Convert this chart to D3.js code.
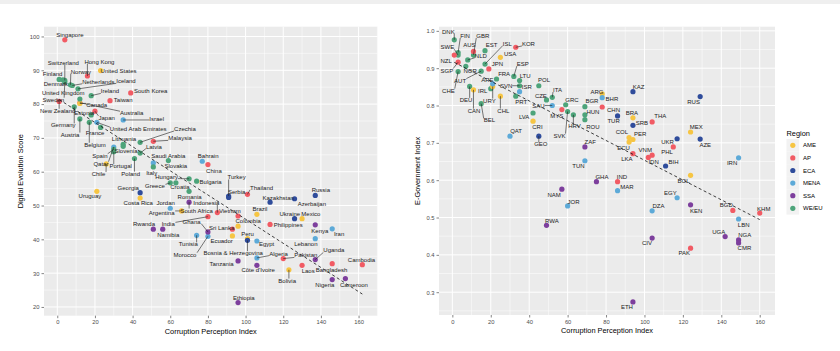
<!DOCTYPE html>
<html>
<head>
<meta charset="utf-8">
<script src="https://cdn.jsdelivr.net/npm/d3@7"></script>
<style>
    body, html { margin: 0; padding: 0; background: #fff; }
    #container { width: 840px; height: 351px; }
    text { font-family: "Liberation Sans", Arial, sans-serif; }
</style>
</head>
<body>
<div id="container"></div>
<script>
// ---- regions ----
const regions = ["AME", "AP", "ECA", "MENA", "SSA", "WE/EU"];
const regionColors = ["#F6C543", "#F15B64", "#2F4C9B", "#5DAAD8", "#7D3F9D", "#4DA47A"];

// ---- left panel: Digital Evolution Score vs CPI rank (2019) ----
const desCountry = ["Singapore", "Hong Kong", "South Korea", "Taiwan", "Australia", "New Zealand", "Japan", "Malaysia", "China", "Indonesia", "India", "Vietnam", "Thailand", "Philippines", "Sri Lanka", "Pakistan", "Laos", "Bangladesh", "Cambodia",
    "United States", "Canada", "Chile", "Uruguay", "Costa Rica", "Argentina", "Brazil", "Mexico", "Colombia", "Ecuador", "Peru", "Bolivia",
    "Georgia", "Turkey", "Serbia", "Kazakhstan", "Russia", "Azerbaijan", "Ukraine", "Bosnia & Herzegovina",
    "Israel", "United Arab Emirates", "Qatar", "Saudi Arabia", "Bahrain", "Jordan", "Tunisia", "Morocco", "Iran", "Egypt", "Lebanon", "Algeria",
    "South Africa", "Rwanda", "Namibia", "Ghana", "Kenya", "Uganda", "Tanzania", "Côte d'Ivoire", "Nigeria", "Cameroon", "Ethiopia",
    "Denmark", "Finland", "Switzerland", "Sweden", "Norway", "Netherlands", "Iceland", "Ireland", "United Kingdom", "Germany", "Estonia", "Austria", "Belgium", "France", "Czechia", "Lithuania", "Slovenia", "Latvia", "Spain", "Portugal", "Poland", "Slovakia", "Italy", "Hungary", "Bulgaria", "Greece", "Croatia", "Romania"];
const desRegion = ["AP", "AP", "AP", "AP", "AP", "AP", "AP", "AP", "AP", "AP", "AP", "AP", "AP", "AP", "AP", "AP", "AP", "AP", "AP",
    "AME", "AME", "AME", "AME", "AME", "AME", "AME", "AME", "AME", "AME", "AME", "AME",
    "ECA", "ECA", "ECA", "ECA", "ECA", "ECA", "ECA", "ECA",
    "MENA", "MENA", "MENA", "MENA", "MENA", "MENA", "MENA", "MENA", "MENA", "MENA", "MENA", "MENA",
    "SSA", "SSA", "SSA", "SSA", "SSA", "SSA", "SSA", "SSA", "SSA", "SSA", "SSA",
    "WE/EU", "WE/EU", "WE/EU", "WE/EU", "WE/EU", "WE/EU", "WE/EU", "WE/EU", "WE/EU", "WE/EU", "WE/EU", "WE/EU", "WE/EU", "WE/EU", "WE/EU", "WE/EU", "WE/EU", "WE/EU", "WE/EU", "WE/EU", "WE/EU", "WE/EU", "WE/EU", "WE/EU", "WE/EU", "WE/EU", "WE/EU", "WE/EU"];
const desCpi = [4, 16, 39, 28, 12, 1, 20, 51, 80, 85, 80, 96, 101, 113, 93, 120, 130, 146, 162,
    23, 12, 26, 21, 44, 66, 106, 130, 96, 93, 101, 123,
    44, 91, 91, 113, 137, 126, 126, 101,
    35, 21, 30, 51, 77, 60, 74, 80, 146, 106, 137, 106,
    70, 51, 56, 80, 137, 137, 96, 106, 146, 153, 96,
    1, 3, 4, 4, 7, 8, 11, 18, 12, 9, 18, 12, 17, 23, 44, 35, 35, 44, 30, 30, 41, 59, 51, 70, 74, 60, 63, 70];
const desScore = [99.0, 88.3, 83.3, 81.0, 80.4, 80.8, 77.9, 69.0, 62.1, 47.9, 46.7, 46.9, 53.3, 44.4, 43.0, 34.3, 32.3, 32.8, 32.5,
    89.9, 80.2, 62.3, 54.2, 52.2, 48.4, 47.4, 46.1, 43.9, 41.0, 40.2, 31.0,
    53.8, 52.8, 52.4, 51.0, 53.0, 52.0, 46.1, 39.7,
    75.3, 74.6, 67.3, 62.6, 63.1, 49.2, 41.2, 40.9, 43.1, 39.5, 40.2, 34.5,
    51.0, 43.0, 43.0, 42.2, 44.3, 34.0, 33.6, 32.3, 28.1, 28.4, 21.3,
    87.3, 87.2, 87.0, 86.5, 85.7, 85.5, 84.5, 82.5, 81.5, 79.2, 76.8, 75.6, 74.6, 73.1, 68.7, 68.1, 67.5, 65.5, 66.6, 65.9, 63.9, 63.3, 61.4, 57.9, 57.2, 56.7, 56.7, 54.2];

// ---- right panel: E-Government Index vs CPI rank (2020) ----
const egovCode = ["DNK", "FIN", "SWE", "GBR", "NLD", "NOR", "CHE", "EST", "ISL", "AUT", "DEU", "IRL", "BEL", "FRA", "ESP", "PRT", "LTU", "SVN", "POL", "LVA", "CZE", "ITA", "GRC", "SVK", "HRV", "BGR", "HUN", "ROU",
    "NZL", "SGP", "AUS", "JPN", "KOR", "MYS", "CHN", "THA", "LKA", "VNM", "IDN", "PHL", "IND", "BGD", "KHM", "PAK",
    "USA", "CAN", "URY", "CHL", "CRI", "ARG", "BRA", "COL", "PER", "ECU", "MEX", "BOL",
    "ARE", "ISR", "SAU", "QAT", "BHR", "TUN", "IRN", "MAR", "EGY", "DZA", "LBN", "JOR",
    "GEO", "KAZ", "TUR", "SRB", "RUS", "UKR", "AZE", "BIH",
    "ZAF", "GHA", "NAM", "RWA", "KEN", "UGA", "NGA", "CMR", "CIV", "ETH"];
const egovRegion = ["WE/EU", "WE/EU", "WE/EU", "WE/EU", "WE/EU", "WE/EU", "WE/EU", "WE/EU", "WE/EU", "WE/EU", "WE/EU", "WE/EU", "WE/EU", "WE/EU", "WE/EU", "WE/EU", "WE/EU", "WE/EU", "WE/EU", "WE/EU", "WE/EU", "WE/EU", "WE/EU", "WE/EU", "WE/EU", "WE/EU", "WE/EU", "WE/EU",
    "AP", "AP", "AP", "AP", "AP", "AP", "AP", "AP", "AP", "AP", "AP", "AP", "AP", "AP", "AP", "AP",
    "AME", "AME", "AME", "AME", "AME", "AME", "AME", "AME", "AME", "AME", "AME", "AME",
    "MENA", "MENA", "MENA", "MENA", "MENA", "MENA", "MENA", "MENA", "MENA", "MENA", "MENA", "MENA",
    "ECA", "ECA", "ECA", "ECA", "ECA", "ECA", "ECA", "ECA",
    "SSA", "SSA", "SSA", "SSA", "SSA", "SSA", "SSA", "SSA", "SSA", "SSA"];
const egovCpi = [1, 3, 3, 11, 8, 7, 3, 17, 17, 15, 9, 20, 15, 23, 32, 33, 35, 35, 45, 42, 49, 52, 59, 60, 63, 69, 69, 69,
    1, 3, 11, 19, 33, 57, 78, 104, 94, 104, 102, 115, 86, 146, 160, 124,
    25, 11, 21, 25, 42, 78, 94, 92, 94, 92, 124, 124,
    21, 35, 52, 30, 78, 69, 149, 86, 117, 104, 149, 60,
    45, 94, 86, 94, 129, 117, 129, 111,
    69, 75, 57, 49, 124, 142, 149, 149, 104, 94];
const egovIndex = [0.976, 0.942, 0.935, 0.935, 0.922, 0.905, 0.891, 0.947, 0.911, 0.892, 0.851, 0.845, 0.805, 0.871, 0.878, 0.825, 0.867, 0.853, 0.853, 0.780, 0.815, 0.822, 0.802, 0.784, 0.775, 0.797, 0.775, 0.762,
    0.935, 0.916, 0.945, 0.898, 0.956, 0.789, 0.796, 0.756, 0.671, 0.667, 0.661, 0.689, 0.596, 0.519, 0.512, 0.418,
    0.929, 0.842, 0.851, 0.825, 0.758, 0.831, 0.767, 0.714, 0.709, 0.702, 0.729, 0.613,
    0.858, 0.837, 0.800, 0.718, 0.821, 0.652, 0.660, 0.572, 0.553, 0.518, 0.496, 0.531,
    0.718, 0.837, 0.772, 0.747, 0.824, 0.711, 0.710, 0.638,
    0.689, 0.596, 0.576, 0.479, 0.534, 0.449, 0.440, 0.432, 0.445, 0.274];

// ---- label placement (pixel nudges from the point, like ggrepel output) ----
const desNudge = {
    "Singapore": [5, -5], "Switzerland": [-1.5, -18], "Hong Kong": [12, -14.3], "Finland": [-10.3, -5.7], "Norway": [10.5, -13.3],
    "United States": [18, 0.7], "Denmark": [-3.2, 5], "Netherlands": [26, -3.8], "Iceland": [48, -7.6], "Ireland": [18.8, -4.3],
    "South Korea": [20, -2.3], "United Kingdom": [-16.6, -6], "Sweden": [-11.5, 17.5], "Taiwan": [13.2, -0.7], "Canada": [16.8, 1.3],
    "New Zealand": [-1.5, 9.3], "Australia": [51.8, 10.4], "Estonia": [-7, -2], "Japan": [11.7, 6.6], "Israel": [33.5, -0.6],
    "Germany": [-11, 18.5], "United Arab Emirates": [41.4, 6.6], "Czechia": [44.8, -13.4], "Austria": [-9.9, 15.5], "France": [-5.6, 5.6],
    "Lithuania": [0.8, -5.7], "Malaysia": [26.7, -3], "Belgium": [5.7, 22.3], "Latvia": [13.8, -6.6], "Spain": [-13.8, 6.3],
    "Slovenia": [2.8, 5], "Saudi Arabia": [15, -7], "Qatar": [-12.8, 16.6], "Portugal": [6.9, 14.3], "Slovakia": [7.5, 5.7],
    "Chile": [-7.7, 10], "Poland": [-3.8, 15], "Italy": [-1.6, 6], "Bahrain": [5.9, -5.7], "China": [6, 6],
    "Hungary": [-22.5, -2.3], "Bulgaria": [14, 1], "Greece": [-15.3, 3.4], "Croatia": [4, 4.4], "Georgia": [-11.9, -4.4],
    "Uruguay": [-6.9, 5], "Costa Rica": [-1.9, 4.7], "Romania": [0.5, 5.6], "Indonesia": [-11, -10], "Jordan": [-4.6, -5],
    "South Africa": [7.5, 8.3], "Argentina": [-19.9, 1.6], "Vietnam": [-8.2, -5], "Rwanda": [-9.3, -5], "India": [-39.7, 7.6],
    "Ghana": [-16.3, -10.3], "Namibia": [5.5, 5.3], "Tunisia": [-8.4, 9], "Morocco": [-23, 18.3], "Turkey": [8, -18.7],
    "Serbia": [8, -5.7], "Thailand": [14.1, -6.7], "Kazakhstan": [8.1, -4.4], "Russia": [5.6, -5], "Azerbaijan": [17.3, 5],
    "Brazil": [3, -5], "Ukraine": [-4.7, -5], "Mexico": [8.8, -5], "Colombia": [10.1, -5], "Philippines": [18.1, 0],
    "Kenya": [4.6, 6.4], "Iran": [6.9, 5], "Sri Lanka": [-10.8, -1.7], "Ecuador": [-10.8, 5], "Peru": [0, -5],
    "Egypt": [9.7, 2.6], "Lebanon": [-9.4, 5.7], "Bosnia & Herzegovina": [-14.3, 12.7], "Algeria": [21.7, -4.4], "Pakistan": [22.6, -3.3],
    "Uganda": [18.6, -9.3], "Tanzania": [-16.5, 2.6], "Côte d'Ivoire": [1.3, 5], "Laos": [6.1, 6], "Cambodia": [-0.8, -4.3],
    "Bangladesh": [-0.7, 6], "Bolivia": [-1.7, 10.7], "Nigeria": [-7.4, 5.7], "Cameroon": [8.5, 6], "Ethiopia": [5.8, -5]
};
const egovNudge = {
    "DNK": [-5.9, -8], "FIN": [7, -16.7], "GBR": [9.3, -19.3], "SWE": [-10.7, -8], "AUS": [-4.1, -6.4], "EST": [6.7, -5.7],
    "ISL": [22.3, -20.6], "KOR": [12.7, -3.4], "NLD": [13.1, -4.3], "USA": [9.7, -3.4], "NZL": [-8.2, 5.7], "SGP": [-11.3, 8.3],
    "NOR": [4.3, 4.3], "JPN": [8.5, -5], "ESP": [9, -12.4], "AUT": [-21.1, 9.3], "FRA": [7.6, -5.6], "LTU": [5.5, -5],
    "ARE": [-5.3, -4.3], "SVN": [-13.5, 0], "ISR": [7.2, -5], "POL": [5.3, -5.7], "CHE": [-9.7, 19], "IRL": [-8, 1.7],
    "DEU": [-3.6, 13.3], "URY": [-3.3, 14], "PRT": [5.4, 5.3], "ITA": [5.2, -7.4], "CZE": [-5.6, -4.3], "SAU": [-13.8, 0],
    "CHL": [3, 14.3], "CAN": [0.6, 20.7], "GRC": [6.2, -5], "MYS": [-5, 6.7], "BEL": [8.2, 16.7], "LVA": [-8.9, 4],
    "HRV": [1.1, 10.7], "CRI": [4.4, 5.7], "QAT": [6.1, -5.3], "SVK": [-8.1, 24], "GEO": [2, 8], "BGR": [7, -6],
    "HUN": [8, -2.6], "ROU": [8, 6.7], "ZAF": [5.3, -5], "TUN": [-6.4, 5], "ARG": [-5.3, -2], "BHR": [9.7, 1.7],
    "CHN": [11.3, 2.6], "KAZ": [5.6, -5], "TUR": [-4, 5.3], "BRA": [-1, -5], "SRB": [9, -2.3], "THA": [8.1, -6],
    "COL": [-7.2, -5.6], "PER": [7.3, -5.3], "ECU": [-5.6, 5.6], "UKR": [-9.5, 3.4], "PHL": [-6.3, 5], "VNM": [-6.9, -5],
    "LKA": [-6, 5.7], "IDN": [5.3, 4.4], "BIH": [8, -3.7], "GHA": [5.5, -5], "IND": [4.4, -5], "MAR": [9.4, -4],
    "EGY": [-6.8, -4.4], "RUS": [-6.6, 5.7], "MEX": [5.7, -5], "AZE": [5.1, 5.3], "IRN": [-6.5, 5.6], "BOL": [-7, 5.4],
    "DZA": [6.4, -5], "KEN": [5.7, 6], "BGD": [-6.5, -5.7], "KHM": [4, -4], "LBN": [5.1, 5.7], "UGA": [-6.5, -5],
    "NGA": [6.1, -5], "CMR": [5.8, 5], "CIV": [-5.2, 5], "PAK": [-6.3, 5], "ETH": [-6, 5.4], "NAM": [-7.7, 5.7],
    "JOR": [5.9, -4.3], "RWA": [5.4, -4.7]
};

const width = 840, height = 351;
const color = d3.scaleOrdinal().domain(regions).range(regionColors);

const svg = d3.select("#container").append("svg")
    .attr("width", width)
    .attr("height", height);

svg.append("rect").attr("width", width).attr("height", height).attr("fill", "#fff");
svg.append("rect").attr("width", width).attr("height", 4).attr("fill", "#efefef");

// ggplot-like 5% expansion
function expand(ext) {
    const pad = (ext[1] - ext[0]) * 0.05;
    return [ext[0] - pad, ext[1] + pad];
}

function drawPanel(opt) {
    const g = svg.append("g");
    const xs = opt.x, ys = opt.y;
    const x = d3.scaleLinear().domain(expand(d3.extent(xs))).range([opt.left, opt.right]);
    const y = d3.scaleLinear().domain(expand(d3.extent(ys))).range([opt.bottom, opt.top]);

    g.append("rect")
        .attr("x", opt.left).attr("y", opt.top)
        .attr("width", opt.right - opt.left).attr("height", opt.bottom - opt.top)
        .attr("fill", "#EBEBEB");

    const inX = v => v >= x.domain()[0] && v <= x.domain()[1];
    const inY = v => v >= y.domain()[0] && v <= y.domain()[1];

    // minor grid
    g.selectAll(null).data(opt.xMinor.filter(inX)).join("line")
        .attr("x1", d => x(d)).attr("x2", d => x(d))
        .attr("y1", opt.top).attr("y2", opt.bottom)
        .attr("stroke", "#fff").attr("stroke-width", 0.5);
    g.selectAll(null).data(opt.yMinor.filter(inY)).join("line")
        .attr("y1", d => y(d)).attr("y2", d => y(d))
        .attr("x1", opt.left).attr("x2", opt.right)
        .attr("stroke", "#fff").attr("stroke-width", 0.5);
    // major grid
    g.selectAll(null).data(opt.xTicks).join("line")
        .attr("x1", d => x(d)).attr("x2", d => x(d))
        .attr("y1", opt.top).attr("y2", opt.bottom)
        .attr("stroke", "#fff").attr("stroke-width", 1);
    g.selectAll(null).data(opt.yTicks).join("line")
        .attr("y1", d => y(d)).attr("y2", d => y(d))
        .attr("x1", opt.left).attr("x2", opt.right)
        .attr("stroke", "#fff").attr("stroke-width", 1);

    // axes
    const xAxis = g.append("g")
        .attr("transform", `translate(0,${opt.bottom})`)
        .call(d3.axisBottom(x).tickValues(opt.xTicks).tickSize(2.5).tickPadding(2));
    const yAxis = g.append("g")
        .attr("transform", `translate(${opt.left},0)`)
        .call(d3.axisLeft(y).tickValues(opt.yTicks).tickFormat(opt.yFormat).tickSize(2.5).tickPadding(2));
    [xAxis, yAxis].forEach(a => {
        a.select(".domain").remove();
        a.selectAll(".tick line").attr("stroke", "#333").attr("stroke-width", 0.6);
        a.selectAll(".tick text").attr("fill", "#4D4D4D").attr("font-size", 5.8)
            .style("font-family", "'Liberation Sans', Arial, sans-serif");
    });

    g.append("text")
        .attr("x", (opt.left + opt.right) / 2).attr("y", opt.bottom + 18)
        .attr("text-anchor", "middle").attr("font-size", 7.4).attr("fill", "#000")
        .text(opt.xTitle);
    g.append("text")
        .attr("transform", `translate(${opt.yTitleX},${(opt.top + opt.bottom) / 2}) rotate(-90)`)
        .attr("text-anchor", "middle").attr("font-size", 7.4).attr("fill", "#000")
        .text(opt.yTitle);

    const pts = xs.map((v, i) => ({
        name: opt.names[i], region: opt.regions[i], px: x(v), py: y(ys[i])
    }));

    // points
    g.selectAll(null).data(pts).join("circle")
        .attr("cx", d => d.px).attr("cy", d => d.py).attr("r", 2.6)
        .attr("fill", d => color(d.region));

    // linear fit (dashed)
    const mx = d3.mean(xs), my = d3.mean(ys);
    const b = d3.sum(xs, (v, i) => (v - mx) * (ys[i] - my)) / d3.sum(xs, v => (v - mx) * (v - mx));
    const a = my - b * mx;
    const [x0, x1] = d3.extent(xs);
    g.append("line")
        .attr("x1", x(x0)).attr("y1", y(a + b * x0))
        .attr("x2", x(x1)).attr("y2", y(a + b * x1))
        .attr("stroke", "#111").attr("stroke-width", 0.8)
        .attr("stroke-dasharray", "3,2.5");

    // labels with segments
    const segG = g.append("g");
    const labG = g.append("g");
    pts.forEach(d => {
        const nd = opt.nudge[d.name] || [0, -5];
        const t = labG.append("text")
            .attr("x", d.px + nd[0]).attr("y", d.py + nd[1])
            .attr("dy", "0.35em")
            .attr("text-anchor", "middle")
            .attr("font-size", opt.labelSize)
            .attr("fill", "#222")
            .text(d.name);
        const bb = t.node().getBBox();
        const cx = Math.max(bb.x, Math.min(d.px, bb.x + bb.width));
        const cy = Math.max(bb.y + 1, Math.min(d.py, bb.y + bb.height - 1));
        const dist = Math.hypot(cx - d.px, cy - d.py);
        if (dist > 5) {
            segG.append("line")
                .attr("x1", d.px).attr("y1", d.py)
                .attr("x2", cx).attr("y2", cy)
                .attr("stroke", "#222").attr("stroke-width", 0.6);
        }
    });
}

drawPanel({
    left: 44, right: 377.5, top: 26.7, bottom: 315.7,
    x: desCpi, y: desScore, names: desCountry, regions: desRegion, nudge: desNudge,
    xTicks: d3.range(0, 161, 20), xMinor: d3.range(-10, 181, 20),
    yTicks: d3.range(20, 101, 10), yMinor: d3.range(15, 106, 10),
    yFormat: d3.format("d"),
    xTitle: "Corruption Perception Index", yTitle: "Digital Evolution Score", yTitleX: 23,
    labelSize: 6
});

drawPanel({
    left: 439, right: 775, top: 26.7, bottom: 315,
    x: egovCpi, y: egovIndex, names: egovCode, regions: egovRegion, nudge: egovNudge,
    xTicks: d3.range(0, 161, 20), xMinor: d3.range(-10, 181, 20),
    yTicks: [0.3, 0.4, 0.5, 0.6, 0.7, 0.8, 0.9, 1.0], yMinor: [0.25, 0.35, 0.45, 0.55, 0.65, 0.75, 0.85, 0.95, 1.05],
    yFormat: d3.format(".1f"),
    xTitle: "Corruption Perception Index", yTitle: "E-Government Index", yTitleX: 420,
    labelSize: 6
});

// legend
const legend = svg.append("g").attr("transform", "translate(786.5,133)");
legend.append("text").attr("x", 0).attr("y", 2.5).attr("font-size", 7.4).attr("fill", "#000").text("Region");
const key = legend.selectAll(".key").data(regions).join("g")
    .attr("transform", (d, i) => `translate(0,${6 + i * 12.6})`);
key.append("rect").attr("width", 12.6).attr("height", 12.6).attr("fill", "#F2F2F2");
key.append("circle").attr("cx", 6.3).attr("cy", 6.3).attr("r", 2.6).attr("fill", d => color(d));
key.append("text").attr("x", 16.5).attr("y", 6.3).attr("dy", "0.35em")
    .attr("font-size", 6).attr("fill", "#000").text(d => d);
</script>
</body>
</html>
